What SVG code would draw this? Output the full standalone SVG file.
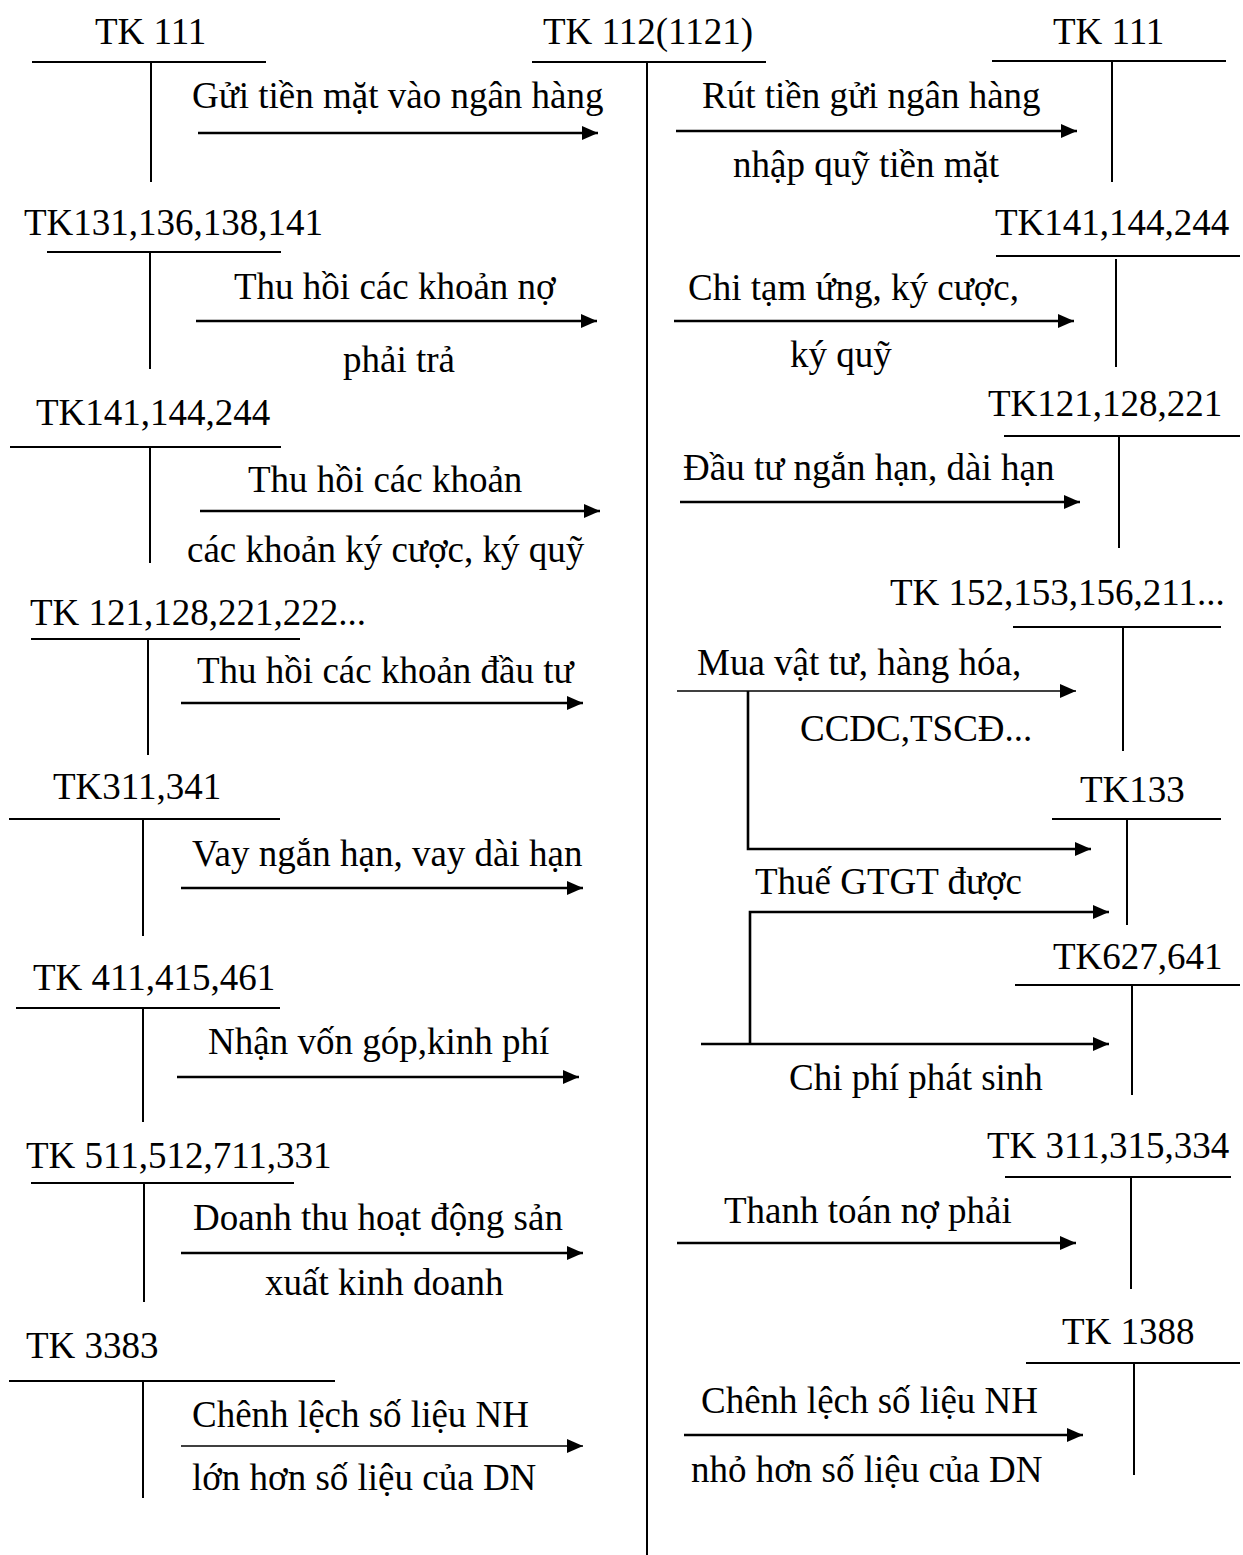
<svg xmlns="http://www.w3.org/2000/svg" width="1243" height="1555" viewBox="0 0 1243 1555">
  <defs>
    <style>
      text { font-family: "Liberation Serif", "Times New Roman", serif; font-size: 37px; fill: #000; }
      .t { stroke: #000; stroke-width: 2; fill: none; }
      .arr { stroke: #000; stroke-width: 2.6; fill: none; marker-end: url(#ah); }
      .thin { stroke: #000; stroke-width: 1.4; fill: none; marker-end: url(#ah); }
    </style>
    <marker id="ah" markerUnits="userSpaceOnUse" markerWidth="16" markerHeight="14" viewBox="0 0 16 14" refX="16" refY="7" orient="auto">
      <path d="M0,0 L16,7 L0,14 Z" fill="#000"/>
    </marker>
  </defs>
  <rect width="1243" height="1555" fill="#fff"/>

  <!-- central T-account -->
  <g id="tk112">
    <text x="543" y="44">TK 112(1121)</text>
    <path class="t" d="M532,62 H766 M647,62 V1555"/>
  </g>

  <!-- left-side accounts -->
  <g id="tk111-left">
    <text x="95" y="44">TK 111</text>
    <path class="t" d="M32,62 H266 M151,62 V182"/>
  </g>
  <g id="tk131">
    <text x="24" y="235">TK131,136,138,141</text>
    <path class="t" d="M47,252 H281 M150,252 V369"/>
  </g>
  <g id="tk141-left">
    <text x="36" y="425">TK141,144,244</text>
    <path class="t" d="M10,447 H281 M150,447 V563"/>
  </g>
  <g id="tk121-left">
    <text x="30" y="625">TK 121,128,221,222...</text>
    <path class="t" d="M31,639 H300 M148,639 V755"/>
  </g>
  <g id="tk311-left">
    <text x="53" y="799">TK311,341</text>
    <path class="t" d="M9,819 H280 M143,819 V936"/>
  </g>
  <g id="tk411">
    <text x="33" y="990">TK 411,415,461</text>
    <path class="t" d="M16,1008 H280 M143,1008 V1122"/>
  </g>
  <g id="tk511">
    <text x="26" y="1168">TK 511,512,711,331</text>
    <path class="t" d="M31,1183 H294 M144,1183 V1302"/>
  </g>
  <g id="tk3383">
    <text x="26" y="1358">TK 3383</text>
    <path class="t" d="M9,1381 H335 M143,1381 V1498"/>
  </g>

  <!-- right-side accounts -->
  <g id="tk111-right">
    <text x="1053" y="44">TK 111</text>
    <path class="t" d="M992,61 H1226 M1112,61 V182"/>
  </g>
  <g id="tk141-right">
    <text x="995" y="235">TK141,144,244</text>
    <path class="t" d="M996,256 H1240 M1116,259 V367"/>
  </g>
  <g id="tk121-right">
    <text x="988" y="416">TK121,128,221</text>
    <path class="t" d="M1004,436 H1240 M1119,436 V548"/>
  </g>
  <g id="tk152">
    <text x="890" y="605">TK 152,153,156,211...</text>
    <path class="t" d="M1013,627 H1221 M1123,627 V751"/>
  </g>
  <g id="tk133">
    <text x="1080" y="802">TK133</text>
    <path class="t" d="M1052,819 H1221 M1127,819 V925"/>
  </g>
  <g id="tk627">
    <text x="1053" y="969">TK627,641</text>
    <path class="t" d="M1015,985 H1240 M1132,985 V1095"/>
  </g>
  <g id="tk311-right">
    <text x="987" y="1158">TK 311,315,334</text>
    <path class="t" d="M1005,1177 H1231 M1131,1177 V1289"/>
  </g>
  <g id="tk1388">
    <text x="1062" y="1344">TK 1388</text>
    <path class="t" d="M1026,1363 H1240 M1134,1363 V1475"/>
  </g>

  <!-- entries (arrows and their labels) -->
  <g id="connectors">
    <path class="arr" d="M198,133 H598"/>
    <text x="192" y="108">Gửi tiền mặt vào ngân hàng</text>

    <path class="arr" d="M196,321 H597"/>
    <text x="234" y="299">Thu hồi các khoản nợ</text>
    <text x="343" y="372">phải trả</text>

    <path class="arr" d="M200,511 H600"/>
    <text x="248" y="492">Thu hồi các khoản</text>
    <text x="187" y="562">các khoản ký cược, ký quỹ</text>

    <path class="arr" d="M181,703 H583"/>
    <text x="197" y="683">Thu hồi các khoản đầu tư</text>

    <path class="arr" d="M181,888 H583"/>
    <text x="192" y="866">Vay ngắn hạn, vay dài hạn</text>

    <path class="arr" d="M177,1077 H579"/>
    <text x="208" y="1054">Nhận vốn góp,kinh phí</text>

    <path class="arr" d="M181,1253 H583"/>
    <text x="193" y="1230">Doanh thu hoạt động sản</text>
    <text x="265" y="1295">xuất kinh doanh</text>

    <path class="thin" d="M181,1446 H583"/>
    <text x="192" y="1427">Chênh lệch số liệu NH</text>
    <text x="192" y="1490">lớn hơn số liệu của DN</text>

    <path class="arr" d="M676,131 H1077"/>
    <text x="702" y="108">Rút tiền gửi ngân hàng</text>
    <text x="733" y="177">nhập quỹ tiền mặt</text>

    <path class="arr" d="M674,321 H1074"/>
    <text x="688" y="300">Chi tạm ứng, ký cược,</text>
    <text x="790" y="367">ký quỹ</text>

    <path class="arr" d="M680,502 H1080"/>
    <text x="683" y="480">Đầu tư ngắn hạn, dài hạn</text>

    <path class="thin" d="M677,691 H1076"/>
    <text x="697" y="675">Mua vật tư, hàng hóa,</text>
    <text x="800" y="741">CCDC,TSCĐ...</text>
    <path class="arr" d="M748,691 V849 H1091"/>

    <path class="arr" d="M750,1044 V912 H1109"/>
    <text x="755" y="894">Thuế GTGT được</text>

    <path class="arr" d="M701,1044 H1109"/>
    <text x="789" y="1090">Chi phí phát sinh</text>

    <path class="arr" d="M677,1243 H1076"/>
    <text x="724" y="1223">Thanh toán nợ phải</text>

    <path class="arr" d="M684,1435 H1083"/>
    <text x="701" y="1413">Chênh lệch số liệu NH</text>
    <text x="691" y="1482">nhỏ hơn số liệu của DN</text>
  </g>
</svg>
